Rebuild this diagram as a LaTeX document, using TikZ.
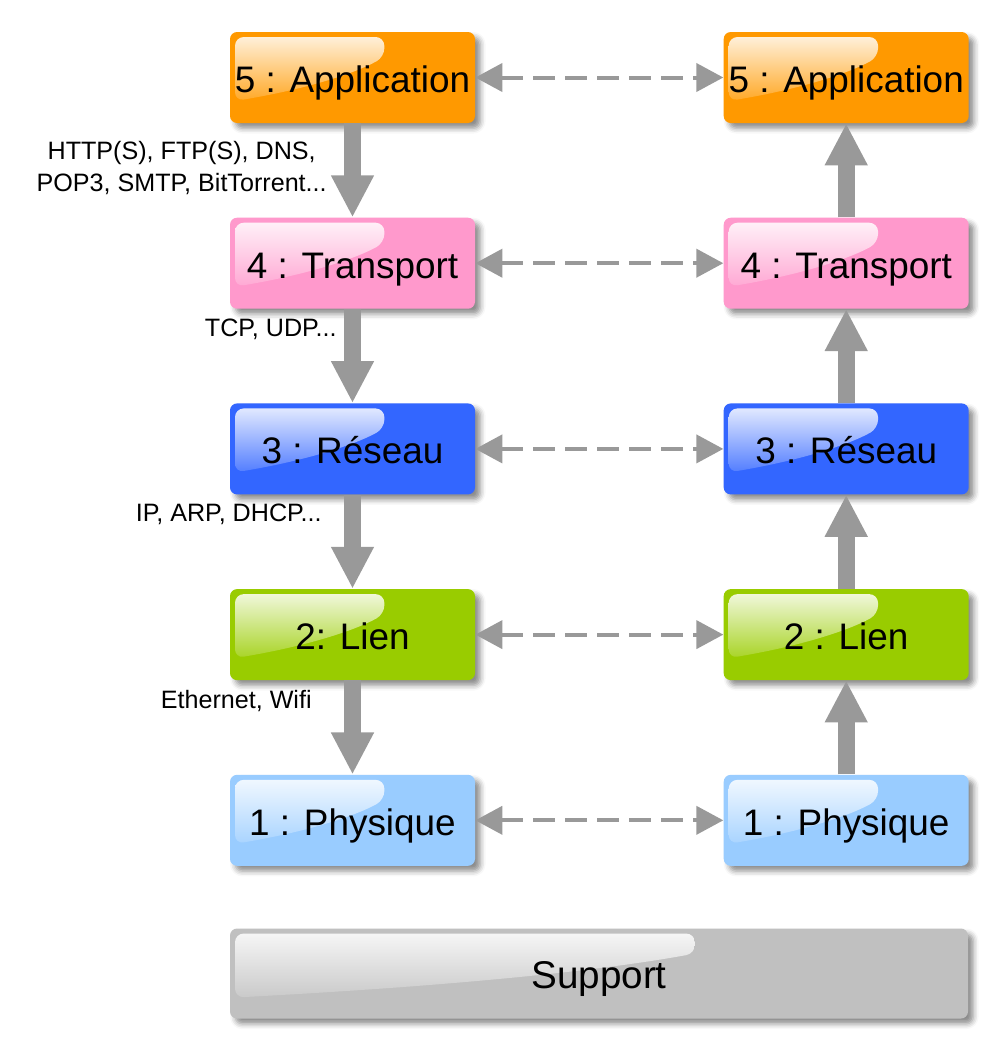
\documentclass[tikz,border=0pt]{standalone}
\usepackage{fontspec}
\setmainfont{Liberation Sans}
\usetikzlibrary{positioning,calc,arrows.meta,shadows.blur}
\definecolor{appcolor}{HTML}{FF9900}
\definecolor{transcolor}{HTML}{FF99CC}
\definecolor{netcolor}{HTML}{3366FF}
\definecolor{linkcolor}{HTML}{99CC00}
\definecolor{physcolor}{HTML}{99CCFF}
\definecolor{supcolor}{HTML}{C0C0C0}
\definecolor{arrowgrey}{HTML}{999999}

\begin{document}
\begin{tikzpicture}[%
          layer/.style={fill=#1, rounded corners=4pt, minimum width=4.9cm, minimum height=1.82cm,
            inner sep=0pt, font=\fontsize{21}{25}\selectfont, text height=19.5pt, text depth=2.5pt,
            blur shadow={shadow xshift=3pt, shadow yshift=-3pt, shadow blur radius=3pt, shadow opacity=45},
            path picture={
              \coordinate (gnw) at (path picture bounding box.north west);
              \coordinate (gne) at (path picture bounding box.north east);
              \shade[top color=white!85!#1, bottom color=white!15!#1, rounded corners=5pt]
                ($(gnw)+(0.1,-0.1)$) -- ($(gnw)!0.63!(gne)+(0,-0.1)$) -- ($(gnw)!0.63!(gne)+(0,-0.5)$)
                .. controls ($(gnw)!0.5!(gne)+(0,-0.85)$) and ($(gnw)!0.3!(gne)+(0,-1.15)$) .. ($(gnw)+(0.1,-1.38)$)
                -- cycle;
            }},
          flow/.style={draw=arrowgrey, line width=0.34cm, -{Triangle[length=0.84cm,width=0.8cm]}},
          peer/.style={draw=arrowgrey, line width=0.08cm, dash pattern=on 0.44cm off 0.2cm,
            {Triangle[length=0.54cm,width=0.56cm]}-{Triangle[length=0.54cm,width=0.56cm]}},
          proto/.style={font=\fontsize{14.3}{18.7}\selectfont, align=center, inner sep=0pt, anchor=east}]
          \useasboundingbox (0,0) rectangle (20,-20.98);
          \node[layer=appcolor] (app1) at (7.05,-1.55) {5 : Application};
          \node[layer=transcolor, below=1.88cm of app1] (tra1) {4 : Transport};
          \node[layer=netcolor, below=1.88cm of tra1] (net1) {3 : Réseau};
          \node[layer=linkcolor, below=1.88cm of net1] (lnk1) {2: Lien};
          \node[layer=physcolor, below=1.88cm of lnk1] (phy1) {1 : Physique};
          \node[layer=appcolor, right=4.96cm of app1] (app2) {5 : Application};
          \node[layer=transcolor, right=4.96cm of tra1] (tra2) {4 : Transport};
          \node[layer=netcolor, right=4.96cm of net1] (net2) {3 : Réseau};
          \node[layer=linkcolor, right=4.96cm of lnk1] (lnk2) {2 : Lien};
          \node[layer=physcolor, right=4.96cm of phy1] (phy2) {1 : Physique};
          \node[layer=supcolor, minimum width=14.76cm, minimum height=1.8cm, anchor=north west,
            font=\fontsize{22}{26}\selectfont] (sup) at ($(phy1.south west)+(0,-1.24)$) {Support};
          \foreach \a/\b in {app1/tra1, tra1/net1, net1/lnk1, lnk1/phy1, phy2/lnk2, lnk2/net2, net2/tra2, tra2/app2}
            \draw[flow] (\a) -- (\b);
          \foreach \n in {app, tra, net, lnk, phy}
            \draw[peer] (\n1) -- (\n2);
          \node[proto] (proto5) at (6.54,-3.36) {HTTP(S), FTP(S), DNS,\\POP3, SMTP, BitTorrent...};
          \node[proto] (proto4) at (6.74,-6.58) {TCP, UDP...};
          \node[proto] (proto3) at (6.44,-10.28) {IP, ARP, DHCP...};
          \node[proto] (proto2) at (6.24,-14.02) {Ethernet, Wifi};
        \end{tikzpicture}
\end{document}
